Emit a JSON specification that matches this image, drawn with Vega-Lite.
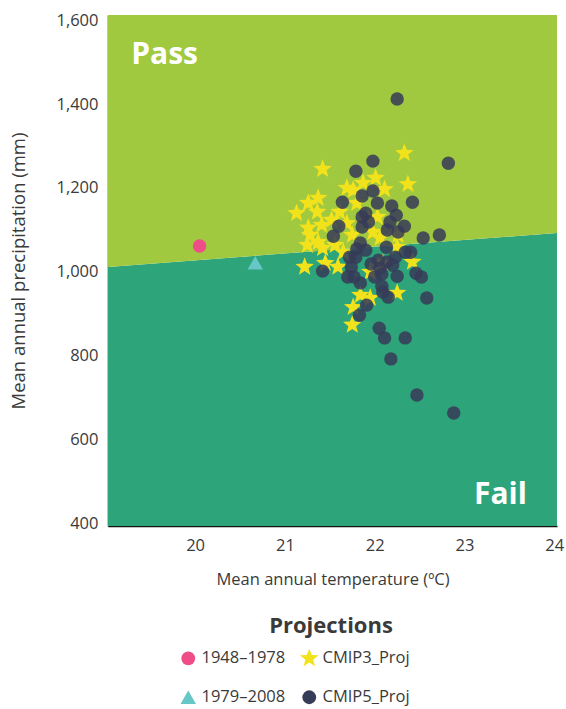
{
  "$schema": "https://vega.github.io/schema/vega-lite/v6.json",
  "width": 449,
  "height": 511,
  "autosize": {"type": "none"},
  "padding": {"left": 108, "top": 15, "right": 9, "bottom": 183},
  "background": "white",
  "config": {
    "view": {"stroke": null},
    "font": "Open Sans",
    "axis": {
      "domainColor": "#111111",
      "domainWidth": 1.5,
      "ticks": false,
      "grid": false,
      "labelFont": "Open Sans",
      "labelFontSize": 16.5,
      "labelColor": "#3a3a3a",
      "titleFont": "Open Sans",
      "titleFontSize": 16.5,
      "titleFontWeight": "normal",
      "titleColor": "#3a3a3a"
    },
    "legend": {
      "labelFont": "Open Sans",
      "labelFontSize": 16.5,
      "labelColor": "#3a3a3a",
      "titleFont": "Open Sans",
      "titleFontSize": 22,
      "titleFontWeight": "bold",
      "titleColor": "#3a3a3a"
    }
  },
  "layer": [
    {
      "data": {"values": [{"x": 19.03, "lo": 395, "hi": 1012}, {"x": 24.03, "lo": 395, "hi": 1093}]},
      "mark": {"type": "area", "color": "#2ea47a", "opacity": 1},
      "encoding": {
        "x": {"field": "x", "type": "quantitative", "scale": {"domain": [19.03, 24.03], "nice": false, "zero": false},
              "axis": {"orient": "bottom", "values": [20, 21, 22, 23, 24], "title": "Mean annual temperature (ºC)", "labelPadding": 11, "titleY": 53, "titleBaseline": "middle", "format": "d"}},
        "y": {"field": "lo", "type": "quantitative", "scale": {"domain": [395, 1612], "nice": false, "zero": false},
              "axis": {"orient": "left", "values": [400, 600, 800, 1000, 1200, 1400, 1600], "format": ",d", "title": "Mean annual precipitation (mm)", "titleFontSize": 18.5, "labelPadding": 10, "titleX": -90, "titleBaseline": "middle"}},
        "y2": {"field": "hi"}
      }
    },
    {
      "data": {"values": [{"x": 19.03, "lo": 1012, "hi": 1612}, {"x": 24.03, "lo": 1093, "hi": 1612}]},
      "mark": {"type": "area", "color": "#a0c940", "opacity": 1},
      "encoding": {
        "x": {"field": "x", "type": "quantitative"},
        "y": {"field": "lo", "type": "quantitative"},
        "y2": {"field": "hi"}
      }
    },
    {
      "data": {"values": [{"label": "Pass", "x": 19.66, "y": 1516}, {"label": "Fail", "x": 23.4, "y": 469}]},
      "mark": {"type": "text", "color": "white", "fontSize": 30, "fontWeight": "bold", "font": "Open Sans", "align": "center", "baseline": "middle"},
      "encoding": {
        "x": {"field": "x", "type": "quantitative"},
        "y": {"field": "y", "type": "quantitative"},
        "text": {"field": "label"}
      }
    },
    {
      "data": {"values": [
        {"series": "1948–1978", "t": 20.05, "p": 1062},
        {"series": "1979–2008", "t": 20.67, "p": 1022},
        {"series": "CMIP3_Proj", "t": 22.33, "p": 1283},
        {"series": "CMIP3_Proj", "t": 21.42, "p": 1245},
        {"series": "CMIP3_Proj", "t": 22.01, "p": 1224},
        {"series": "CMIP3_Proj", "t": 21.87, "p": 1212},
        {"series": "CMIP3_Proj", "t": 21.69, "p": 1200},
        {"series": "CMIP3_Proj", "t": 21.76, "p": 1195},
        {"series": "CMIP3_Proj", "t": 22.11, "p": 1197},
        {"series": "CMIP3_Proj", "t": 22.37, "p": 1209},
        {"series": "CMIP3_Proj", "t": 21.37, "p": 1176},
        {"series": "CMIP3_Proj", "t": 21.26, "p": 1164},
        {"series": "CMIP3_Proj", "t": 21.80, "p": 1164},
        {"series": "CMIP3_Proj", "t": 21.13, "p": 1140},
        {"series": "CMIP3_Proj", "t": 21.36, "p": 1143},
        {"series": "CMIP3_Proj", "t": 21.61, "p": 1143},
        {"series": "CMIP3_Proj", "t": 21.52, "p": 1124},
        {"series": "CMIP3_Proj", "t": 21.69, "p": 1116},
        {"series": "CMIP3_Proj", "t": 21.93, "p": 1128},
        {"series": "CMIP3_Proj", "t": 22.03, "p": 1131},
        {"series": "CMIP3_Proj", "t": 21.41, "p": 1112},
        {"series": "CMIP3_Proj", "t": 21.26, "p": 1105},
        {"series": "CMIP3_Proj", "t": 21.28, "p": 1088},
        {"series": "CMIP3_Proj", "t": 21.75, "p": 1088},
        {"series": "CMIP3_Proj", "t": 21.98, "p": 1095},
        {"series": "CMIP3_Proj", "t": 22.26, "p": 1088},
        {"series": "CMIP3_Proj", "t": 21.37, "p": 1071},
        {"series": "CMIP3_Proj", "t": 21.25, "p": 1064},
        {"series": "CMIP3_Proj", "t": 21.42, "p": 1057},
        {"series": "CMIP3_Proj", "t": 21.56, "p": 1064},
        {"series": "CMIP3_Proj", "t": 21.65, "p": 1047},
        {"series": "CMIP3_Proj", "t": 22.25, "p": 1059},
        {"series": "CMIP3_Proj", "t": 22.06, "p": 1081},
        {"series": "CMIP3_Proj", "t": 22.42, "p": 1024},
        {"series": "CMIP3_Proj", "t": 22.09, "p": 1021},
        {"series": "CMIP3_Proj", "t": 21.22, "p": 1012},
        {"series": "CMIP3_Proj", "t": 21.45, "p": 1021},
        {"series": "CMIP3_Proj", "t": 21.59, "p": 1012},
        {"series": "CMIP3_Proj", "t": 21.95, "p": 1000},
        {"series": "CMIP3_Proj", "t": 22.04, "p": 1014},
        {"series": "CMIP3_Proj", "t": 21.84, "p": 945},
        {"series": "CMIP3_Proj", "t": 21.95, "p": 938},
        {"series": "CMIP3_Proj", "t": 22.25, "p": 950},
        {"series": "CMIP3_Proj", "t": 21.76, "p": 916},
        {"series": "CMIP3_Proj", "t": 21.75, "p": 874},
        {"series": "CMIP5_Proj", "t": 22.25, "p": 1412},
        {"series": "CMIP5_Proj", "t": 22.82, "p": 1259},
        {"series": "CMIP5_Proj", "t": 21.98, "p": 1264},
        {"series": "CMIP5_Proj", "t": 21.79, "p": 1240},
        {"series": "CMIP5_Proj", "t": 21.98, "p": 1193},
        {"series": "CMIP5_Proj", "t": 21.86, "p": 1181},
        {"series": "CMIP5_Proj", "t": 21.64, "p": 1166},
        {"series": "CMIP5_Proj", "t": 22.03, "p": 1164},
        {"series": "CMIP5_Proj", "t": 22.19, "p": 1157},
        {"series": "CMIP5_Proj", "t": 22.42, "p": 1166},
        {"series": "CMIP5_Proj", "t": 21.90, "p": 1140},
        {"series": "CMIP5_Proj", "t": 21.86, "p": 1131},
        {"series": "CMIP5_Proj", "t": 21.93, "p": 1119},
        {"series": "CMIP5_Proj", "t": 22.24, "p": 1135},
        {"series": "CMIP5_Proj", "t": 22.17, "p": 1119},
        {"series": "CMIP5_Proj", "t": 21.86, "p": 1107},
        {"series": "CMIP5_Proj", "t": 21.60, "p": 1109},
        {"series": "CMIP5_Proj", "t": 22.33, "p": 1109},
        {"series": "CMIP5_Proj", "t": 22.14, "p": 1100},
        {"series": "CMIP5_Proj", "t": 22.26, "p": 1095},
        {"series": "CMIP5_Proj", "t": 21.54, "p": 1085},
        {"series": "CMIP5_Proj", "t": 22.54, "p": 1081},
        {"series": "CMIP5_Proj", "t": 22.72, "p": 1088},
        {"series": "CMIP5_Proj", "t": 21.84, "p": 1069},
        {"series": "CMIP5_Proj", "t": 21.80, "p": 1055},
        {"series": "CMIP5_Proj", "t": 21.90, "p": 1052},
        {"series": "CMIP5_Proj", "t": 22.13, "p": 1059},
        {"series": "CMIP5_Proj", "t": 22.34, "p": 1047},
        {"series": "CMIP5_Proj", "t": 22.40, "p": 1047},
        {"series": "CMIP5_Proj", "t": 21.72, "p": 1035},
        {"series": "CMIP5_Proj", "t": 21.79, "p": 1035},
        {"series": "CMIP5_Proj", "t": 22.23, "p": 1035},
        {"series": "CMIP5_Proj", "t": 21.96, "p": 1019},
        {"series": "CMIP5_Proj", "t": 22.04, "p": 1028},
        {"series": "CMIP5_Proj", "t": 22.14, "p": 1024},
        {"series": "CMIP5_Proj", "t": 22.20, "p": 1016},
        {"series": "CMIP5_Proj", "t": 21.74, "p": 1012},
        {"series": "CMIP5_Proj", "t": 21.42, "p": 1002},
        {"series": "CMIP5_Proj", "t": 22.06, "p": 1009},
        {"series": "CMIP5_Proj", "t": 21.70, "p": 988},
        {"series": "CMIP5_Proj", "t": 21.77, "p": 988},
        {"series": "CMIP5_Proj", "t": 22.00, "p": 988},
        {"series": "CMIP5_Proj", "t": 22.08, "p": 995},
        {"series": "CMIP5_Proj", "t": 22.25, "p": 990},
        {"series": "CMIP5_Proj", "t": 22.46, "p": 997},
        {"series": "CMIP5_Proj", "t": 22.52, "p": 988},
        {"series": "CMIP5_Proj", "t": 21.84, "p": 974},
        {"series": "CMIP5_Proj", "t": 22.08, "p": 966},
        {"series": "CMIP5_Proj", "t": 22.09, "p": 952},
        {"series": "CMIP5_Proj", "t": 22.15, "p": 940},
        {"series": "CMIP5_Proj", "t": 22.58, "p": 938},
        {"series": "CMIP5_Proj", "t": 21.91, "p": 921},
        {"series": "CMIP5_Proj", "t": 21.83, "p": 897},
        {"series": "CMIP5_Proj", "t": 22.05, "p": 866},
        {"series": "CMIP5_Proj", "t": 22.11, "p": 843},
        {"series": "CMIP5_Proj", "t": 22.34, "p": 843},
        {"series": "CMIP5_Proj", "t": 22.18, "p": 793},
        {"series": "CMIP5_Proj", "t": 22.47, "p": 707},
        {"series": "CMIP5_Proj", "t": 22.88, "p": 664}
      ]},
      "mark": {"type": "point", "filled": true, "strokeWidth": 0},
      "encoding": {
        "x": {"field": "t", "type": "quantitative"},
        "y": {"field": "p", "type": "quantitative"},
        "color": {"field": "series", "type": "nominal", "title": "Projections",
          "scale": {"domain": ["1948–1978", "1979–2008", "CMIP3_Proj", "CMIP5_Proj"], "range": ["#ee4d88", "#67c6c6", "#f2e21b", "#363b58"]},
          "legend": {"orient": "none", "legendX": 72, "legendY": 601, "columns": 2, "columnPadding": 13, "rowPadding": 22, "titleAnchor": "middle", "titlePadding": 12, "symbolOpacity": 1, "symbolSize": 190, "labelOffset": 5,
                     "encode": {
                       "symbols": {"update": {"size": {"signal": "datum.value === 'CMIP3_Proj' ? 380 : (datum.value === '1979–2008' ? 240 : 190)"}}},
                       "title": {"update": {"dx": {"value": 36}}}
                     }}},
        "shape": {"field": "series", "type": "nominal", "title": "Projections",
          "scale": {"domain": ["1948–1978", "1979–2008", "CMIP3_Proj", "CMIP5_Proj"], "range": ["circle", "triangle-up", "M0,-1L0.247,-0.34L0.951,-0.309L0.399,0.13L0.588,0.809L0,0.42L-0.588,0.809L-0.399,0.13L-0.951,-0.309L-0.247,-0.34Z", "circle"]}},
        "size": {"condition": [{"test": "datum.series === 'CMIP3_Proj'", "value": 380}, {"test": "datum.series === '1979–2008'", "value": 240}], "value": 180},
        "opacity": {"condition": {"test": "datum.series === 'CMIP5_Proj'", "value": 0.85}, "value": 1}
      }
    }
  ]
}
